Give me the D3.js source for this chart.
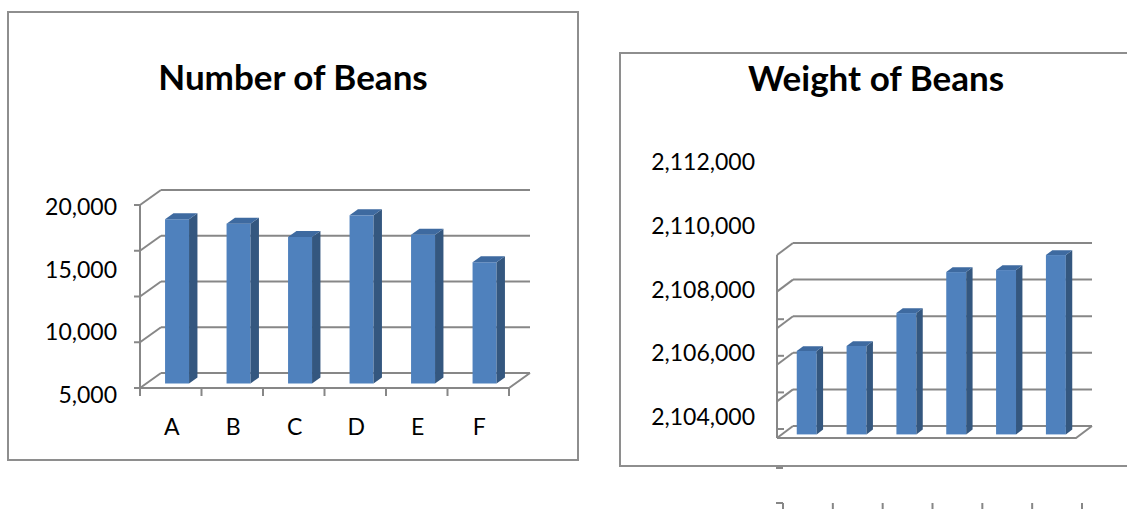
<!DOCTYPE html>
<html>
<head>
<meta charset="utf-8">
<script src="https://cdn.jsdelivr.net/npm/d3@7"></script>
<style>
  body { margin: 0; background: #fff; }
  text { font-family: Lato, "Open Sans", sans-serif; fill: #000; }
</style>
</head>
<body>
<div id="chart"></div>
<script>
// data
const categories = ["A", "B", "C", "D", "E", "F"];
const beanCounts = [17950, 17470, 16010, 18380, 16260, 13250];
const beanWeights = [2104560, 2104830, 2106630, 2108870, 2108980, 2109800];

// gridlines and the (offset) tick labels, as drawn in the original
const countGrid = [0, 5000, 10000, 15000, 20000];
const countLabels = [5000, 10000, 15000, 20000];
const weightGrid = [2100000, 2102000, 2104000, 2106000, 2108000, 2110000];
const weightLabels = [2104000, 2106000, 2108000, 2110000, 2112000];

const W = 1127, H = 509;
const grey = '#878787';
const frontCol = '#4f81bd', sideCol = '#34577f', topCol = '#3e6aa0';
const fmt = d3.format(',');

const svg = d3.select('#chart').append('svg')
  .attr('width', W)
  .attr('height', H);

function drawChart(o) {
  const g = svg.append('g');

  // chart frame
  g.append('rect')
    .attr('x', o.frame[0]).attr('y', o.frame[1])
    .attr('width', o.frame[2]).attr('height', o.frame[3])
    .attr('fill', '#fff').attr('stroke', '#8e8e8e').attr('stroke-width', 2);

  g.append('text')
    .attr('x', o.frame[0] + o.frame[2] / 2)
    .attr('y', o.titleY)
    .attr('text-anchor', 'middle')
    .style('font-weight', 700)
    .style('font-size', o.titleSize)
    .text(o.title);

  const y = d3.scaleLinear().domain(d3.extent(o.grid)).range([o.yBase, o.yTop]);
  const x = d3.scaleBand().domain(categories).range([o.x0, o.x1]);
  const dx = o.dx, dy = o.dy;

  // back wall gridlines
  g.selectAll('.grid').data(o.grid).enter().append('line')
    .attr('x1', o.x0 + dx).attr('x2', o.x1 + dx)
    .attr('y1', d => y(d) - dy).attr('y2', d => y(d) - dy)
    .attr('stroke', grey).attr('stroke-width', 2);

  // side wall diagonals
  g.selectAll('.diag').data(o.grid).enter().append('line')
    .attr('x1', o.x0).attr('x2', o.x0 + dx)
    .attr('y1', d => y(d)).attr('y2', d => y(d) - dy)
    .attr('stroke', grey).attr('stroke-width', 2);

  // front vertical axis
  g.append('line')
    .attr('x1', o.x0).attr('x2', o.x0)
    .attr('y1', y(o.grid[o.grid.length - 1])).attr('y2', y(o.grid[0]))
    .attr('stroke', grey).attr('stroke-width', 2);

  // little axis ticks
  g.selectAll('.ytick').data(o.tickVals).enter().append('line')
    .attr('x1', o.x0 + o.tickDx[0]).attr('x2', o.x0 + o.tickDx[1])
    .attr('y1', d => y(d) - o.tickShift).attr('y2', d => y(d) - o.tickShift)
    .attr('stroke', grey).attr('stroke-width', 2);

  // floor front edge + right diagonal
  const base = y(o.grid[0]);
  g.append('path')
    .attr('d', `M${o.x0},${base}H${o.x1}L${o.x1 + dx},${base - dy}`)
    .attr('fill', 'none').attr('stroke', grey).attr('stroke-width', 2);

  // category ticks
  const edges = categories.map(c => x(c)).concat([o.x1]);
  g.selectAll('.xtick').data(edges).enter().append('line')
    .attr('x1', d => d + o.xTickShift).attr('x2', d => d + o.xTickShift)
    .attr('y1', o.xTickY[0]).attr('y2', o.xTickY[1])
    .attr('stroke', grey).attr('stroke-width', 2);

  // bars
  const bw = x.bandwidth() * o.barFrac;
  const fz = 0.3, depth = 0.4;
  const sdx = dx * depth, sdy = dy * depth;
  const bars = g.selectAll('.bar').data(o.values).enter().append('g');
  const bx = (d, i) => x(categories[i]) + (x.bandwidth() - bw) / 2 + dx * fz;
  const by0 = base - dy * fz;
  const by1 = d => y(d) - dy * fz;

  bars.append('rect')
    .attr('x', bx).attr('y', by1)
    .attr('width', bw).attr('height', d => by0 - by1(d))
    .attr('fill', frontCol);
  bars.append('path')
    .attr('d', (d, i) => {
      const l = bx(d, i) + bw, t = by1(d);
      return `M${l},${t}L${l + sdx},${t - sdy}V${by0 - sdy}L${l},${by0}Z`;
    })
    .attr('fill', sideCol);
  bars.append('path')
    .attr('d', (d, i) => {
      const l = bx(d, i), t = by1(d);
      return `M${l},${t}L${l + sdx},${t - sdy}H${l + bw + sdx}L${l + bw},${t}Z`;
    })
    .attr('fill', topCol);

  // value labels (placed where the original renderer put them)
  const ly = d3.scaleLinear().domain(d3.extent(o.labels)).range(o.labelRange);
  g.selectAll('.ylab').data(o.labels).enter().append('text')
    .attr('x', o.labelX).attr('y', d => ly(d))
    .attr('dy', '0.35em')
    .attr('text-anchor', 'end')
    .style('font-size', '23px')
    .text(d => fmt(d));

  if (o.showCats) {
    g.selectAll('.xlab').data(categories).enter().append('text')
      .attr('x', d => x(d) + x.bandwidth() / 2 + 1)
      .attr('y', o.catY)
      .attr('dy', '0.35em')
      .attr('text-anchor', 'middle')
      .style('font-size', '23px')
      .text(d => d);
  }
}

drawChart({
  title: 'Number of Beans', frame: [8, 12, 570, 448], titleY: 90, titleSize: '35px',
  values: beanCounts, grid: countGrid, labels: countLabels,
  x0: 140, x1: 509, yBase: 388, yTop: 205, dx: 21, dy: 15,
  tickVals: countGrid, tickDx: [-6, 0], tickShift: 0,
  xTickShift: 0, xTickY: [388, 396], barFrac: 0.39,
  labelX: 117, labelRange: [395, 207], showCats: true, catY: 427
});

drawChart({
  title: 'Weight of Beans', frame: [620, 53, 512, 413], titleY: 91, titleSize: '35px',
  values: beanWeights, grid: weightGrid, labels: weightLabels,
  x0: 777, x1: 1076, yBase: 438, yTop: 255, dx: 16, dy: 12,
  tickVals: weightGrid.slice(0, 4), tickDx: [0, 7], tickShift: 9,
  xTickShift: 6, xTickY: [503, 510], barFrac: 0.4,
  labelX: 755, labelRange: [417, 162], showCats: false
});

// stray bits of the weight chart's category axis below its frame
svg.append('path')
  .attr('d', 'M776,503H783M776,468H783')
  .attr('stroke', grey).attr('stroke-width', 2);
</script>
</body>
</html>
